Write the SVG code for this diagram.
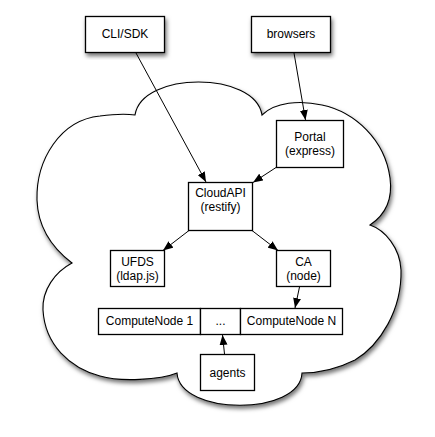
<svg xmlns="http://www.w3.org/2000/svg" width="435" height="437" viewBox="0 0 435 437">
<defs>
<style>
.box{fill:#fff;stroke:#000;stroke-width:1.3}
.cloud{fill:#fff;stroke:#000;stroke-width:1.1}
text{font-family:"Liberation Sans",Arial,Helvetica,sans-serif;font-size:12px;fill:#000;text-anchor:middle}
.edge{fill:none;stroke:#000;stroke-width:1}
</style>
<filter id="shadow" x="-20%" y="-20%" width="140%" height="140%">
<feDropShadow dx="1.5" dy="3" stdDeviation="2" flood-color="#000" flood-opacity="0.55"/>
</filter>
<marker id="arrow" markerUnits="userSpaceOnUse" markerWidth="10" markerHeight="8" refX="10" refY="4" orient="auto">
<path d="M0,0 L10,4 L0,8 z" fill="#000"/>
</marker>
</defs>
<rect width="435" height="437" fill="#fff"/>
<g id="cloud">
<path class="cloud" filter="url(#shadow)" d="M135,115 C142,71 255,71 262,115 C275,102 300,100 322,105 C355,112 385,140 390,178 C393,200 385,215 370,225 C385,230 400,248 401,270 C402,310 380,345 355,360 C335,370 315,373 302,373 C300,416 180,416 177,373 C160,380 120,382 100,376 C70,368 45,345 43,310 C42,290 55,272 72,263 C55,250 38,230 37,200 C36,160 60,120 100,116 C115,114 128,114 135,115 Z"/>
</g>
<g id="cli-sdk">
<rect class="box" filter="url(#shadow)" x="85.5" y="16.5" width="79" height="36"/>
<text x="125" y="38">CLI/SDK</text>
</g>
<g id="browsers">
<rect class="box" filter="url(#shadow)" x="251.5" y="16.5" width="79" height="36"/>
<text x="291" y="38">browsers</text>
</g>
<g id="portal">
<rect class="box" x="276.5" y="120.5" width="67" height="47"/>
<text x="310" y="141">Portal</text>
<text x="310" y="155">(express)</text>
</g>
<g id="cloudapi">
<rect class="box" x="188.5" y="182.5" width="64" height="48"/>
<text x="220.5" y="197">CloudAPI</text>
<text x="220.5" y="211">(restify)</text>
</g>
<g id="ufds">
<rect class="box" x="110.5" y="250.5" width="54" height="36"/>
<text x="137.5" y="266">UFDS</text>
<text x="137.5" y="280">(ldap.js)</text>
</g>
<g id="ca">
<rect class="box" x="276.5" y="250.5" width="54" height="36"/>
<text x="303.5" y="266">CA</text>
<text x="303.5" y="280">(node)</text>
</g>
<g id="computenode-1">
<rect class="box" x="98.5" y="308.5" width="102" height="26"/>
<text x="149.5" y="325">ComputeNode 1</text>
</g>
<g id="computenode-dots">
<rect class="box" x="200.5" y="308.5" width="40" height="26"/>
<text x="220.5" y="325">...</text>
</g>
<g id="computenode-n">
<rect class="box" x="240.5" y="308.5" width="102" height="26"/>
<text x="291.5" y="325">ComputeNode N</text>
</g>
<g id="agents">
<rect class="box" x="200.5" y="354.5" width="54" height="36"/>
<text x="227.5" y="377">agents</text>
</g>
<g id="connectors">
<line class="edge" x1="136" y1="53" x2="206" y2="182" marker-end="url(#arrow)"/>
<line class="edge" x1="294" y1="53" x2="305.5" y2="120" marker-end="url(#arrow)"/>
<line class="edge" x1="276" y1="167.5" x2="253" y2="182.5" marker-end="url(#arrow)"/>
<line class="edge" x1="189" y1="230.5" x2="163" y2="250.5" marker-end="url(#arrow)"/>
<line class="edge" x1="252" y1="230.5" x2="278" y2="250.5" marker-end="url(#arrow)"/>
<line class="edge" x1="299.5" y1="287" x2="295" y2="308" marker-end="url(#arrow)"/>
<line class="edge" x1="224.5" y1="354" x2="222.5" y2="335" marker-end="url(#arrow)"/>
</g>
</svg>
